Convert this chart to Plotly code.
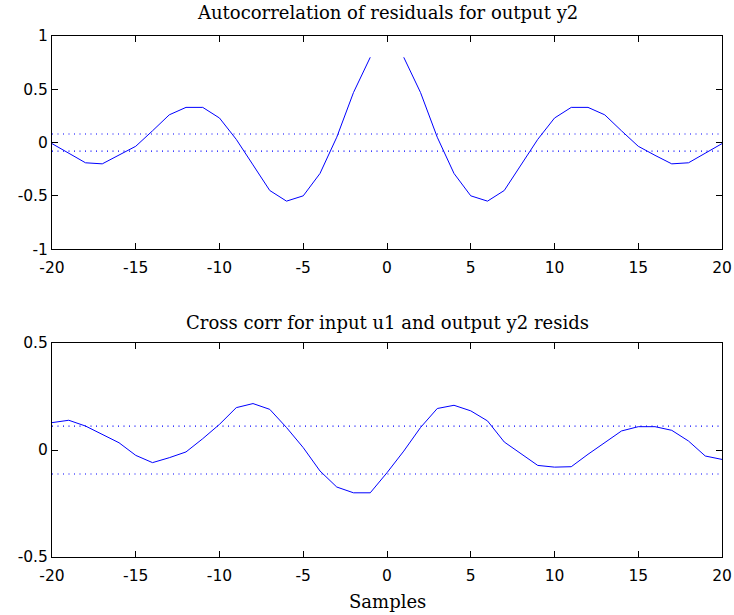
import plotly.graph_objects as go

lags = list(range(-20, 21))

# Autocorrelation of residuals (lag 0 omitted)
auto_neg = [-0.01, -0.10, -0.19, -0.20, -0.12, -0.035, 0.11, 0.26, 0.33, 0.33,
            0.23, 0.03, -0.21, -0.45, -0.55, -0.50, -0.29, 0.05, 0.47, 0.80]
auto_vals = auto_neg + [None] + auto_neg[::-1]

# Cross correlation u1 -> y2 residuals
cross_vals = [0.128, 0.139, 0.112, 0.073, 0.034, -0.025, -0.059, -0.036, -0.009, 0.053,
              0.12, 0.198, 0.217, 0.19, 0.105, 0.011, -0.098, -0.173, -0.20, -0.20,
              -0.106, -0.005, 0.105, 0.194, 0.209, 0.183, 0.136, 0.0375, -0.016, -0.072,
              -0.08, -0.078, -0.02, 0.034, 0.089, 0.109, 0.109, 0.092, 0.042, -0.028, -0.044]

auto_conf = 0.08
cross_conf = 0.112

x_ticks = [-20, -15, -10, -5, 0, 5, 10, 15, 20]
x_tick_text = ["-20", "-15", "-10", "-5", "0", "5", "10", "15", "20"]
y1_ticks = [-1, -0.5, 0, 0.5, 1]
y1_tick_text = ["-1", "-0.5", "0", "0.5", "1"]
y2_ticks = [-0.5, 0, 0.5]
y2_tick_text = ["-0.5", "0", "0.5"]

title1 = "Autocorrelation of residuals for output y2"
title2 = "Cross corr for input u1 and output y2 resids"
xlabel = "Samples"

BLUE = "#0000ff"
fig = go.Figure()

fig.add_trace(go.Scatter(x=lags, y=auto_vals, mode="lines", line=dict(color=BLUE, width=1),
                         connectgaps=False, xaxis="x", yaxis="y"))
for c in (auto_conf, -auto_conf):
    fig.add_trace(go.Scatter(x=[lags[0], lags[-1]], y=[c, c], mode="lines",
                             line=dict(color=BLUE, width=1.2, dash="1px,4.5px"), xaxis="x", yaxis="y"))

fig.add_trace(go.Scatter(x=lags, y=cross_vals, mode="lines", line=dict(color=BLUE, width=1),
                         xaxis="x2", yaxis="y2"))
for c in (cross_conf, -cross_conf):
    fig.add_trace(go.Scatter(x=[lags[0], lags[-1]], y=[c, c], mode="lines",
                             line=dict(color=BLUE, width=1.2, dash="1px,4.5px"), xaxis="x2", yaxis="y2"))

tickfont = dict(family="DejaVu Sans", size=15.5, color="black")
axis_common = dict(showline=True, linecolor="black", linewidth=1, mirror="ticks",
                   ticks="inside", ticklen=6, tickcolor="black", showgrid=False,
                   zeroline=False, tickfont=tickfont, automargin=False)

fig.update_layout(
    width=734, height=615,
    margin=dict(l=52, r=12, t=36, b=58),
    paper_bgcolor="white", plot_bgcolor="white",
    showlegend=False,
    xaxis=dict(domain=[0, 1], range=[-20, 20], tickvals=x_ticks, ticktext=x_tick_text,
               anchor="y", ticklabelstandoff=4, **axis_common),
    yaxis=dict(domain=[0.591, 1], range=[-1, 1], tickvals=y1_ticks, ticktext=y1_tick_text,
               anchor="x", **axis_common),
    xaxis2=dict(domain=[0, 1], range=[-20, 20], tickvals=x_ticks, ticktext=x_tick_text,
                anchor="y2", ticklabelstandoff=4, **axis_common),
    yaxis2=dict(domain=[0, 0.4107], range=[-0.5, 0.5], tickvals=y2_ticks, ticktext=y2_tick_text,
                anchor="x2", **axis_common),
)

serif = dict(family="DejaVu Serif", size=18, color="black")
fig.add_annotation(text=title1, xref="x domain", yref="y domain", x=0.5, y=1,
                   xanchor="center", yanchor="middle", yshift=24, showarrow=False, font=serif)
fig.add_annotation(text=title2, xref="x2 domain", yref="y2 domain", x=0.5, y=1,
                   xanchor="center", yanchor="middle", yshift=21, showarrow=False, font=serif)
fig.add_annotation(text=xlabel, xref="x2 domain", yref="y2 domain", x=0.5, y=0,
                   xanchor="center", yanchor="middle", yshift=-44, showarrow=False, font=serif)

fig.write_html("out.html", config={"displayModeBar": False},
               post_script="document.body.style.margin='0px';")
